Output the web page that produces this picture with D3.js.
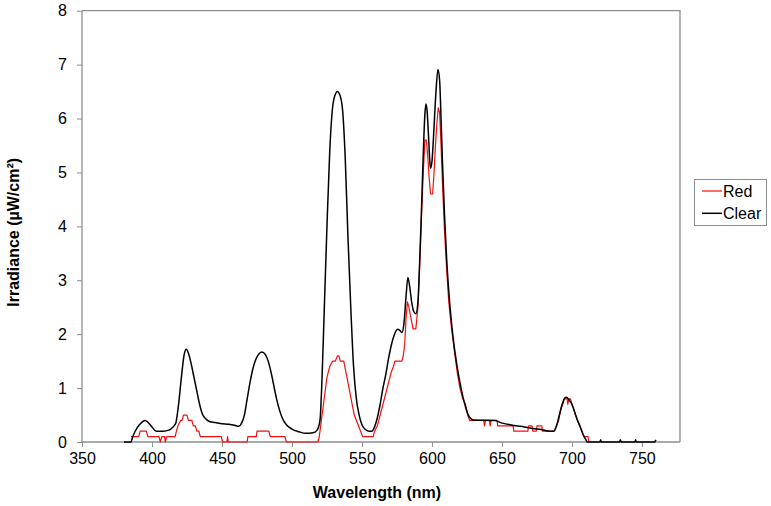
<!DOCTYPE html>
<html><head><meta charset="utf-8">
<script src="https://cdn.jsdelivr.net/npm/d3@7"></script>
<style>body{margin:0;background:#fff}svg{display:block}text{font-family:Arial,"Liberation Sans",sans-serif}</style>
</head><body><svg id="c" width="771" height="506"></svg>
<script>
const xTicks=[350,400,450,500,550,600,650,700,750];
const yTicks=[0,1,2,3,4,5,6,7,8];
const seriesNames=["Red","Clear"];
const clearWl=[380,385,386,388,391,393,395,397,400,403,408,412,415,417,419,421,423,424.5,426,428,430,432,434,436,438,441,445,450,455,459,462,464,466,468,470,472,474,476,478.5,481,483,485,487,489,491,493,496,500,505,510,515,518,520,521.5,523,525,527,529,531,532.5,534,536,538,540,542,544,546,548,550,552,555,557,559,561,563,565,567,569,571,573,575.5,577,578.5,580,581.5,582.8,584,585.5,587,588.5,590,591,592,593,594,595,595.7,596.5,597.5,598.5,599,600,601,602,603,604.3,605.5,606.5,607.5,609,610.5,612,614,616,618,620,622,624,626,628,630,645,650,654,660,666,672,678,684,687,689,691,693,695,696,698,700,702,704,706,708,710,711,720,720.5,721,734,734.6,735.2,745,745.5,746,759,760];
const clearVal=[0,0,0.08,0.2,0.32,0.37,0.4,0.37,0.28,0.2,0.2,0.22,0.28,0.35,0.7,1.2,1.62,1.72,1.65,1.45,1.2,0.95,0.7,0.52,0.44,0.38,0.36,0.34,0.33,0.31,0.29,0.35,0.5,0.8,1.1,1.35,1.52,1.62,1.67,1.62,1.5,1.3,1.05,0.8,0.6,0.45,0.32,0.24,0.19,0.16,0.17,0.22,0.4,1.2,2.4,4.0,5.4,6.2,6.45,6.5,6.45,6.2,5.3,3.8,2.5,1.4,0.8,0.5,0.32,0.24,0.2,0.2,0.28,0.45,0.7,1.0,1.25,1.55,1.8,1.98,2.09,2.07,2.03,2.2,2.7,3.05,2.9,2.6,2.42,2.38,2.6,3.2,3.9,4.7,5.5,6.1,6.27,6.15,5.7,5.2,5.08,5.2,5.6,6.1,6.55,6.91,6.7,6.0,5.2,4.2,3.4,2.8,2.2,1.75,1.4,1.1,0.85,0.65,0.5,0.43,0.41,0.4,0.35,0.33,0.3,0.28,0.25,0.23,0.2,0.2,0.3,0.5,0.7,0.82,0.83,0.78,0.7,0.55,0.4,0.28,0.14,0.04,0,0,0.04,0,0,0.04,0,0,0.04,0,0,0.04];
const redWl=[385,390.5,391.5,396,397,405,406,407,409,409.5,410.5,416.5,417.5,418.5,420.5,421.5,422.5,425,426,428.5,429.5,431,432,433.5,434.5,449.5,450.5,453.5,454,454.5,468,468.5,474.5,475,483.5,484.5,495,496,518.5,519.5,520.5,522,523.5,525,527,529,531,532.5,533.5,534.5,537,538.5,540,541.5,543,544.5,546,547.5,549,550.5,558,559,561,563,565,567,569,571,572.5,573.5,578.5,579.5,580.5,581.5,582.5,583.5,585,586.5,588.5,590,591,592,593,594,595,596,597,598,599,600.5,601.5,602.5,603.5,604.5,605.5,606.5,607.5,609,610.5,612,614,616,618,620,622,624,625.5,627,637,637.5,638.3,641,641.6,642.2,646.5,647,658,658.5,668.5,669,671.5,672,674.5,675,678.5,679,687.5,689,690.5,692,693.5,694.5,696.5,697,698,699,700,701.5,702.5,704,705.5,707,708.5,711.5,712];
const redVal=[0.1,0.1,0.2,0.2,0.1,0.1,0,0.1,0.1,0,0.1,0.1,0.2,0.3,0.4,0.4,0.5,0.5,0.4,0.4,0.3,0.3,0.2,0.2,0.1,0.1,0,0,0.1,0,0,0.1,0.1,0.2,0.2,0.1,0.1,0,0,0.1,0.3,0.6,0.9,1.2,1.4,1.5,1.5,1.6,1.6,1.5,1.5,1.3,1.1,0.9,0.7,0.5,0.4,0.3,0.2,0.1,0.1,0.2,0.3,0.5,0.7,0.9,1.1,1.3,1.4,1.5,1.5,1.6,1.8,2.3,2.6,2.5,2.3,2.1,2.1,2.5,3.1,3.8,4.5,5.1,5.6,5.6,5.3,4.9,4.6,4.6,5.0,5.5,5.9,6.2,6.1,5.5,4.8,3.9,3.2,2.6,2.1,1.7,1.3,1.0,0.8,0.7,0.5,0.4,0.4,0.3,0.4,0.4,0.3,0.4,0.4,0.3,0.3,0.2,0.2,0.3,0.3,0.2,0.2,0.3,0.3,0.2,0.2,0.3,0.4,0.6,0.7,0.8,0.8,0.7,0.8,0.8,0.7,0.6,0.5,0.4,0.3,0.2,0.1,0.1,0];

const svg=d3.select("#c");
const L=82,R=680,T=10.7,B=442;
const x=d3.scaleLinear().domain([350,350+(R-L)/1.3998]).range([L,R]);
const y=d3.scaleLinear().domain([0,8]).range([B,T]);
const axisCol="#8a8f91";

// frame top/right
svg.append("path").attr("d",`M${L},${T}H${R}V${B}`).attr("fill","none").attr("stroke",axisCol).attr("stroke-width",1.3);

const gx=svg.append("g").attr("transform",`translate(0,${B})`)
  .call(d3.axisBottom(x).tickValues(xTicks).tickSize(5).tickPadding(6).tickFormat(d3.format("d")));
const gy=svg.append("g").attr("transform",`translate(${L},0)`)
  .call(d3.axisLeft(y).tickValues(yTicks).tickSize(5).tickPadding(10).tickFormat(d3.format("d")));
[gx,gy].forEach(g=>{
  g.select(".domain").attr("stroke",axisCol).attr("stroke-width",1.3);
  g.selectAll(".tick line").attr("stroke",axisCol).attr("stroke-width",1);
  g.selectAll(".tick text").attr("font-size",16).attr("fill","#000").attr("font-family","Arial, 'Liberation Sans', sans-serif");
});
gy.select(".domain").attr("d",`M0,${T}V${B}`);
gx.select(".domain").attr("d",`M${L},0H${R}`);

const line=d3.line().x(d=>x(d[0])).y(d=>y(d[1]));
const redData=redWl.map((w,i)=>[w,redVal[i]]);
const clearData=clearWl.map((w,i)=>[w,clearVal[i]]);
svg.append("path").datum(redData).attr("d",line).attr("fill","none").attr("stroke","#f01010").attr("stroke-width",1.2).attr("stroke-linejoin","round");
svg.append("path").datum(clearData).attr("d",line.curve(d3.curveMonotoneX)).attr("fill","none").attr("stroke","#000").attr("stroke-width",1.5).attr("stroke-linejoin","round");

// titles
svg.append("text").attr("x",(L+R)/2-4).attr("y",498).attr("text-anchor","middle").attr("font-size",16).attr("font-weight","bold").text("Wavelength (nm)");
svg.append("text").attr("transform",`translate(19,${(T+B)/2+6}) rotate(-90)`).attr("text-anchor","middle").attr("font-size",16).attr("font-weight","bold").text("Irradiance (µW/cm²)");

// legend
const lg=svg.append("g");
lg.append("rect").attr("x",694.5).attr("y",179.5).attr("width",72).attr("height",46).attr("fill","#fff").attr("stroke",axisCol).attr("stroke-width",1);
const cols=["#f01010","#000"];
seriesNames.forEach((n,i)=>{
  const yy=191+i*22.3;
  lg.append("line").attr("x1",702).attr("x2",722).attr("y1",yy).attr("y2",yy).attr("stroke",cols[i]).attr("stroke-width",i?1.5:1.2);
  lg.append("text").attr("x",723).attr("y",yy+5.5).attr("font-size",16).text(n);
});
</script></body></html>
